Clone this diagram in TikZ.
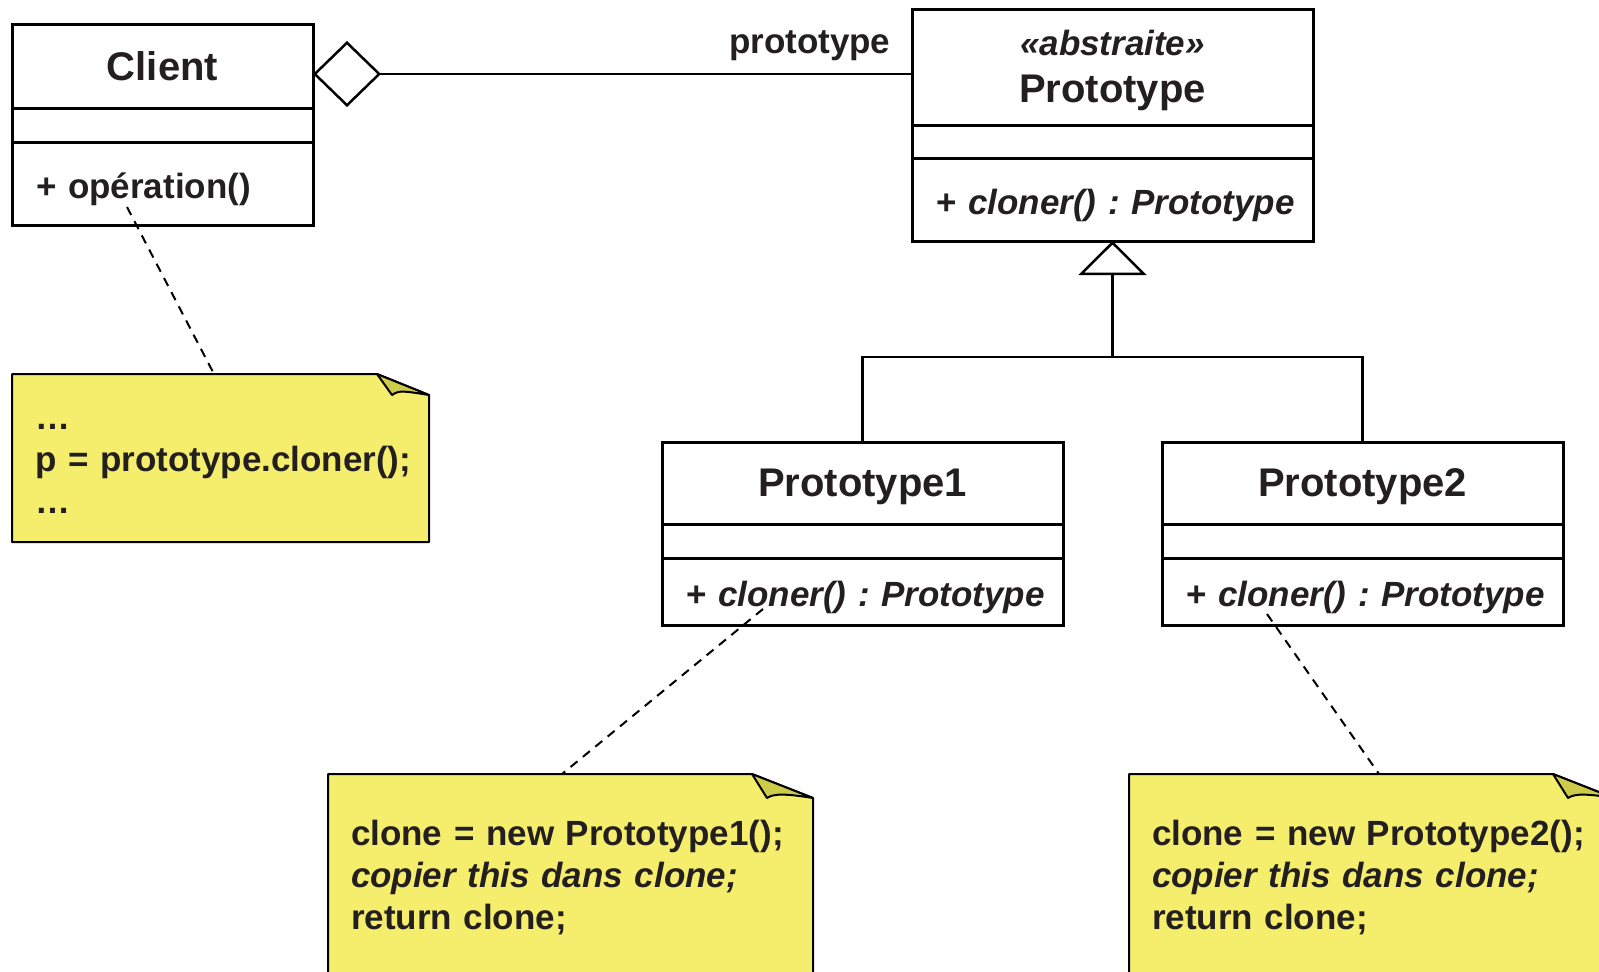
\documentclass[tikz,border=0pt]{standalone}
\usepackage{fontspec}
\setmainfont{Liberation Sans}
\usetikzlibrary{positioning,calc,arrows.meta,backgrounds}
\hyphenpenalty=10000
\exhyphenpenalty=10000

\definecolor{notefill}{RGB}{245,237,108}
\definecolor{notefold}{RGB}{205,203,74}
\definecolor{ink}{RGB}{35,31,32}

\tikzset{
  every node/.style={text=ink, font=\fontsize{35}{42}\selectfont\bfseries},
  classname/.style={draw, line width=3pt, outer sep=0pt, inner sep=0pt,
    minimum width=401pt, align=center, font=\fontsize{40}{44}\selectfont\bfseries},
  classattr/.style={draw, line width=3pt, outer sep=0pt, inner sep=0pt,
    minimum width=401pt, minimum height=34pt},
  classops/.style={draw, line width=3pt, outer sep=0pt, inner xsep=24pt, inner ysep=0pt,
    text width=353pt, text height=35pt, text depth=6pt, align=left},
  notebox/.style={anchor=north west, outer sep=0pt, inner xsep=23pt, inner ysep=0pt,
    align=left},
  noteframe/.style={draw=black, line width=2pt, line join=round},
  noteline/.style={line width=2pt, dash pattern=on 9pt off 7pt},
  link/.style={line width=2.5pt}
}

% dog-eared frame behind a note: #1 node, #2 fold width, #3 fold height
\newcommand{\notefold}[3]{
  \begin{scope}[on background layer]
    \draw[noteframe, fill=notefill] (#1.south west) -- (#1.north west) -- ($(#1.north east)+(-#2,0)$)
      -- ($(#1.north east)+(0,#3)$) -- (#1.south east) -- cycle;
    \draw[noteframe, fill=notefold] ($(#1.north east)+(-#2,0)$) -- ($(#1.north east)+(-#2+15,#3)$)
      .. controls ($(#1.north east)+(-#2+22,#3-5)$) and ($(#1.north east)+(-25,#3-4)$)
      .. ($(#1.north east)+(0,#3)$) -- cycle;
  \end{scope}}

\begin{document}
\begin{tikzpicture}[x=1pt, y=-1pt]
  \useasboundingbox (0,0) rectangle (1599,972);

  % client class
  \node[classname, minimum width=301pt, minimum height=84pt, anchor=north west] (client) at (12,24) {Client};
  \node[classattr, minimum width=301pt, below=0pt of client] (client attr) {};
  \node[classops, text width=253pt, minimum height=83pt, below=0pt of client attr] (client ops) {+~opération()};

  % abstract prototype
  \node[classname, minimum height=116pt, anchor=north west] (proto) at (912,9)
    {{\fontsize{35}{42}\selectfont\itshape\rule{0pt}{32pt}«abstraite»}\\[3pt]Prototype};
  \node[classattr, minimum height=33pt, below=0pt of proto] (proto attr) {};
  \node[classops, minimum height=83pt, below=0pt of proto attr] (proto ops) {+~\textit{cloner()~:~Prototype}};

  % concrete prototypes
  \node[classname, minimum height=82pt, text depth=0pt, anchor=north west] (proto1) at (662,442) {Prototype1};
  \node[classattr, below=0pt of proto1] (proto1 attr) {};
  \node[classops, minimum height=67pt, below=0pt of proto1 attr] (proto1 ops) {+~\textit{cloner()~:~Prototype}};

  \node[classname, minimum height=82pt, text depth=0pt, anchor=north west] (proto2) at (1162,442) {Prototype2};
  \node[classattr, below=0pt of proto2] (proto2 attr) {};
  \node[classops, minimum height=67pt, below=0pt of proto2 attr] (proto2 ops) {+~\textit{cloner()~:~Prototype}};

  % aggregation
  \draw[link, {Diamond[open, length=68pt, width=66pt]}-] ($(client.east)+(0,8)$) coordinate (agg)
    -- (agg -| proto.west) node[anchor=base east, xshift=-17pt, yshift=21pt] (role) {prototype};

  % inheritance
  \coordinate (fork) at (1112.5,357);
  \draw[link] (proto1.north) |- (fork) -| (proto2.north);
  \draw[link, -{Triangle[open, length=34pt, width=68pt]}] (fork) -- (proto ops.south);

  % notes
  \node[notebox, text width=371pt, text height=55pt, text depth=113pt] (client note) at (12,374)
    {…\\p~=~prototype.cloner();\\…};
  \node[notebox, text width=439pt, text height=71pt, text depth=159pt] (note1) at (328,774)
    {clone = new Prototype1();\\\textit{copier this dans clone;}\\return clone;};
  \node[notebox, text width=439pt, text height=71pt, text depth=159pt] (note2) at (1129,774)
    {clone = new Prototype2();\\\textit{copier this dans clone;}\\return clone;};
  \notefold{client note}{52}{21}
  \notefold{note1}{61}{24}
  \notefold{note2}{61}{24}

  \coordinate (client hook) at (127,207);
  \coordinate (proto1 hook) at (763,609);
  \coordinate (proto2 hook) at (1267,614);
  \draw[noteline] (client hook) -- ($(client note.north west)+(202,0)$);
  \draw[noteline] (proto1 hook) -- ($(note1.north west)+(234,0)$);
  \draw[noteline] (proto2 hook) -- ($(note2.north west)+(250,0)$);
\end{tikzpicture}
\end{document}
